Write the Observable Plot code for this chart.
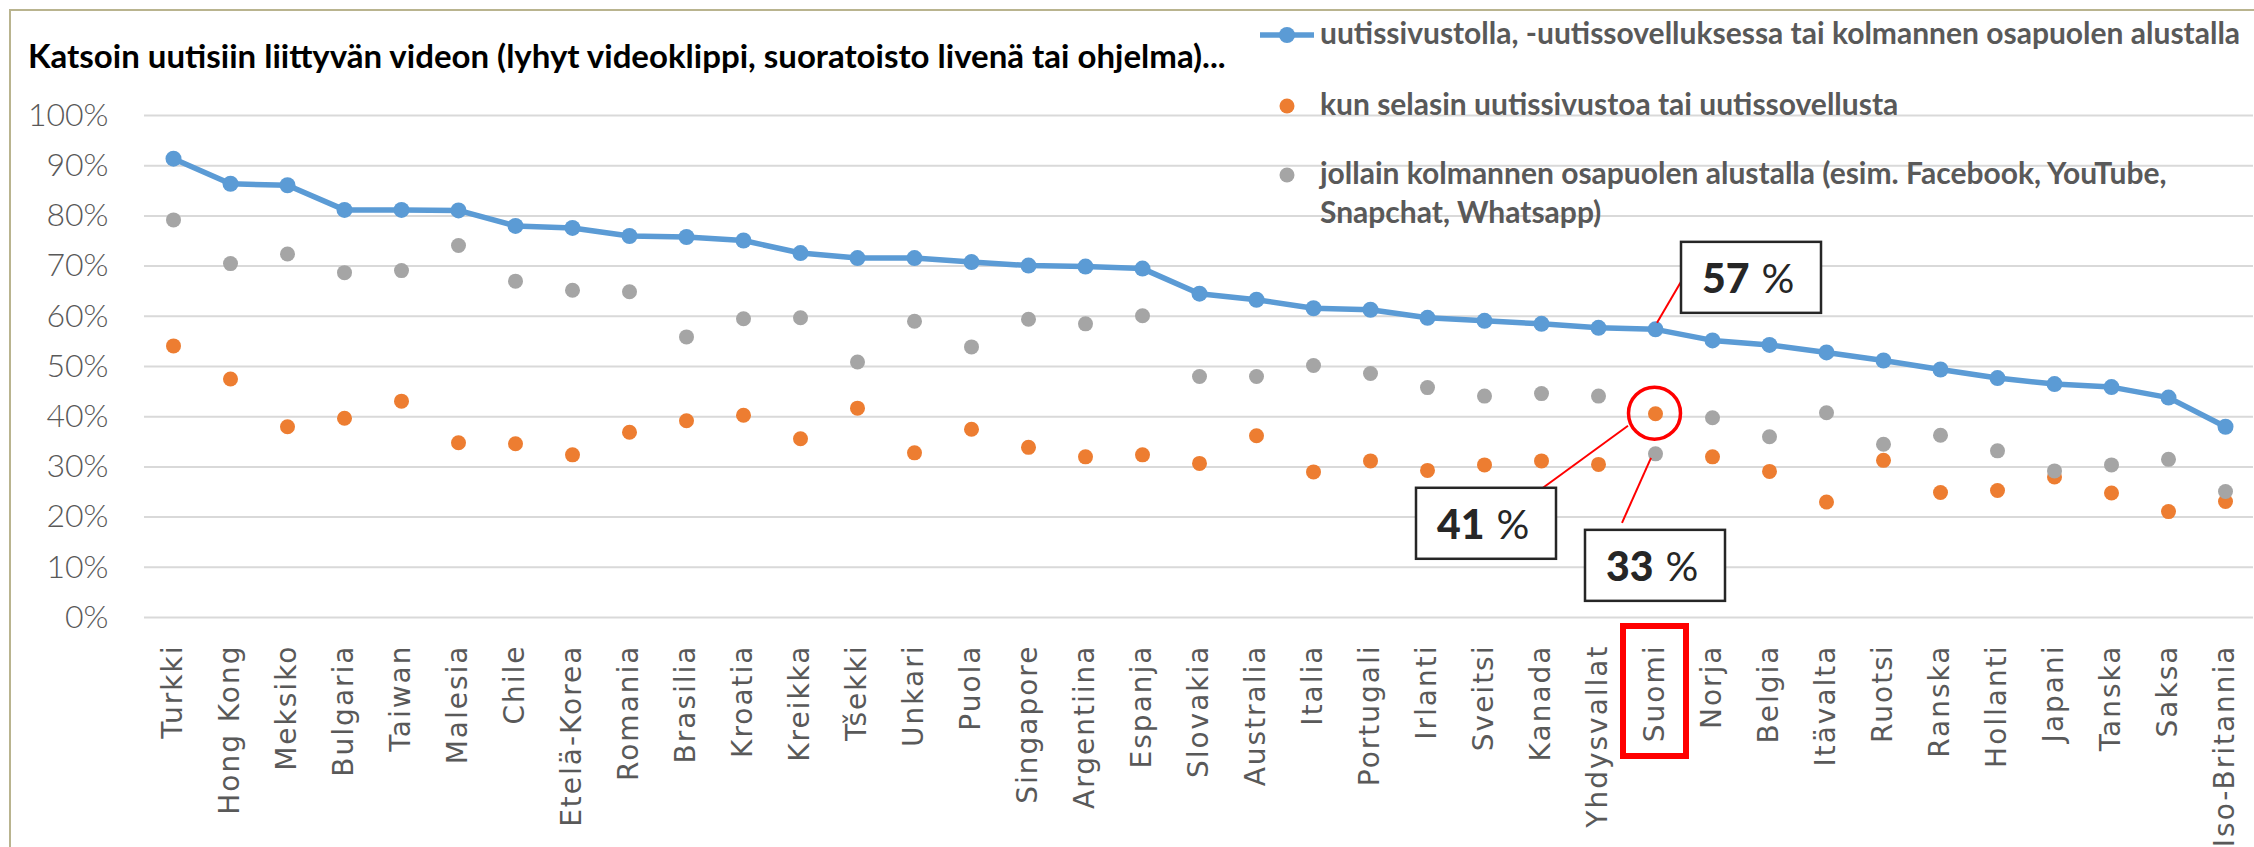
<!DOCTYPE html>
<html>
<head>
<meta charset="utf-8">
<script src="https://cdn.jsdelivr.net/npm/d3@7"></script>
<script src="https://cdn.jsdelivr.net/npm/@observablehq/plot@0.6"></script>
<style>
  html, body { margin: 0; padding: 0; background: #fff; }
  #wrap { position: relative; width: 2254px; height: 847px; overflow: hidden; background: #fff; }
  #wrap svg { position: absolute; left: 0; top: 0; }
  #frame { position: absolute; left: 9px; top: 9px; width: 2400px; height: 1000px; border: 2px solid #B9B48F; box-sizing: border-box; }
</style>
</head>
<body>
<div id="wrap"><div id="frame"></div></div>
<script>
// ---------- data ----------
const countries = ["Turkki","Hong Kong","Meksiko","Bulgaria","Taiwan","Malesia","Chile","Etelä-Korea","Romania","Brasilia","Kroatia","Kreikka","Tšekki","Unkari","Puola","Singapore","Argentiina","Espanja","Slovakia","Australia","Italia","Portugali","Irlanti","Sveitsi","Kanada","Yhdysvallat","Suomi","Norja","Belgia","Itävalta","Ruotsi","Ranska","Hollanti","Japani","Tanska","Saksa","Iso-Britannia"];
const uutis   = [91.4,86.4,86.1,81.2,81.2,81.1,78.0,77.6,76.0,75.8,75.1,72.6,71.6,71.6,70.8,70.1,69.9,69.5,64.5,63.3,61.6,61.3,59.7,59.1,58.5,57.7,57.4,55.2,54.3,52.8,51.2,49.4,47.7,46.5,45.9,43.8,38.0];
const selasin = [54.1,47.5,38.0,39.7,43.1,34.8,34.6,32.4,36.9,39.2,40.3,35.6,41.7,32.8,37.5,33.9,32.0,32.4,30.7,36.2,29.0,31.2,29.3,30.4,31.2,30.5,40.6,32.0,29.1,23.0,31.3,24.9,25.3,28.0,24.8,21.1,23.1];
const kolmas  = [79.2,70.5,72.4,68.7,69.1,74.1,67.0,65.2,64.9,55.9,59.5,59.7,50.9,59.0,53.9,59.4,58.5,60.1,48.0,48.0,50.2,48.6,45.8,44.1,44.6,44.1,32.6,39.8,36.0,40.8,34.5,36.3,33.2,29.2,30.4,31.5,25.1];
const seriesLabels = [
  "uutissivustolla, -uutissovelluksessa tai kolmannen osapuolen alustalla",
  "kun selasin uutissivustoa tai uutissovellusta",
  "jollain kolmannen osapuolen alustalla (esim. Facebook, YouTube, Snapchat, Whatsapp)"
];
const seriesColors = ["#5B9BD5","#ED7D31","#A5A5A5"];
const yTicks = [0,10,20,30,40,50,60,70,80,90,100];
const titleText = "Katsoin uutisiin liittyvän videon (lyhyt videoklippi, suoratoisto livenä tai ohjelma)...";
const highlight = "Suomi";

const rows = countries.map((c, i) => ({country: c, uutis: uutis[i], selasin: selasin[i], kolmas: kolmas[i]}));

// ---------- chart ----------
const plot = Plot.plot({
  width: 2254,
  height: 847,
  marginTop: 115,
  marginBottom: 230,
  marginLeft: 144,
  marginRight: 1,
  style: {background: "transparent", color: "#595959", overflow: "visible"},
  x: {type: "point", domain: countries, padding: 0.5, label: null},
  y: {domain: [0, 100], label: null},
  marks: [
    Plot.ruleY(yTicks, {stroke: "#D9D9D9", strokeWidth: 2}),
    Plot.axisY({ticks: yTicks, tickFormat: d => d + "%", tickSize: 0, tickPadding: 36,
      fontSize: 32, fontFamily: "Lato", fontWeight: 300, fill: "#595959", label: null}),
    Plot.axisX({tickRotate: -90, tickSize: 0, tickPadding: 27,
      fontSize: 28, fontFamily: "DejaVu Sans", fill: "#595959", label: null}),
    Plot.lineY(rows, {x: "country", y: "uutis", stroke: seriesColors[0], strokeWidth: 5.5, strokeLinejoin: "round"}),
    Plot.dot(rows, {x: "country", y: "uutis", r: 8, fill: seriesColors[0]}),
    Plot.dot(rows, {x: "country", y: "selasin", r: 7.5, fill: seriesColors[1]}),
    Plot.dot(rows, {x: "country", y: "kolmas", r: 7.5, fill: seriesColors[2]})
  ]
});
document.getElementById("wrap").appendChild(plot);

const svg = d3.select(plot);
svg.selectAll('[aria-label="x-axis tick label"] text').style("letter-spacing", "2px");

// scales from the plot
const xs = plot.scale("x"), ys = plot.scale("y");
const X = d3.scalePoint().domain(xs.domain).range(xs.range).padding(0.5);
const Y = d3.scaleLinear().domain(ys.domain).range(ys.range);

// ---------- callouts for the highlighted country ----------
const hi = rows.find(r => r.country === highlight);
const hx = X(highlight);
const ann = svg.append("g").attr("text-anchor", "start");
const callouts = [
  {key: "uutis",   box: [26.5, -87],   from: [2.5, -6],   to: [0, 40]},
  {key: "selasin", box: [-238.5, 74.6], from: [-26.5, 12.6], to: [127, 0]},
  {key: "kolmas",  box: [-69.5, 76.5],  from: [-3.5, 4.5],  to: [37, -7]}
];
ann.append("circle").attr("cx", hx).attr("cy", Y(hi.selasin)).attr("r", 26)
  .attr("fill", "none").attr("stroke", "#FF0000").attr("stroke-width", 3.5);
callouts.forEach(c => {
  const py = Y(hi[c.key]);
  const bx = hx + c.box[0], by = py + c.box[1];
  ann.append("line")
    .attr("x1", hx + c.from[0]).attr("y1", py + c.from[1])
    .attr("x2", bx + c.to[0]).attr("y2", by + c.to[1])
    .attr("stroke", "#FF0000").attr("stroke-width", 2);
  ann.append("rect").attr("x", bx).attr("y", by).attr("width", 140).attr("height", 71)
    .attr("fill", "#fff").attr("stroke", "#262626").attr("stroke-width", 2.5);
  const t = ann.append("text").attr("x", bx + 21).attr("y", by + 51)
    .attr("text-anchor", "start")
    .attr("font-family", "Lato").attr("font-size", 41).attr("fill", "#262626");
  t.append("tspan").attr("font-weight", 900).text(Math.round(hi[c.key]));
  t.append("tspan").attr("font-weight", 400).attr("dx", 12).text("%");
});
// red box around highlighted x label
const y0 = Y(0);
ann.append("rect").attr("x", hx - 31.5).attr("y", y0 + 9).attr("width", 63).attr("height", 130)
  .attr("fill", "none").attr("stroke", "#FF0000").attr("stroke-width", 6);

// ---------- title & legend overlay ----------
const over = d3.select("#wrap").append("svg").attr("width", 2254).attr("height", 847)
  .style("pointer-events", "none");
over.append("text").attr("x", 28).attr("y", 68)
  .attr("font-family", "Lato").attr("font-weight", 700).attr("font-size", 33).attr("fill", "#000")
  .text(titleText);

const legX = 1320, legMaxW = 930, lineStep = 38.5;
const legBase = [44, 115, 184];
seriesLabels.forEach((label, i) => {
  const g = over.append("g");
  const my = legBase[i] - 9;
  if (i === 0) {
    g.append("line").attr("x1", 1260).attr("x2", 1314).attr("y1", my).attr("y2", my)
      .attr("stroke", seriesColors[i]).attr("stroke-width", 5.5);
    g.append("circle").attr("cx", 1287).attr("cy", my).attr("r", 8).attr("fill", seriesColors[i]);
  } else {
    g.append("circle").attr("cx", 1287).attr("cy", my).attr("r", 7.5).attr("fill", seriesColors[i]);
  }
  const t = g.append("text").attr("x", legX).attr("y", legBase[i])
    .attr("font-family", "Lato").attr("font-weight", 700).attr("font-size", 30).attr("fill", "#595959");
  const words = label.split(" ");
  let line = [], ts = t.append("tspan").attr("x", legX).attr("dy", 0);
  words.forEach(w => {
    line.push(w);
    ts.text(line.join(" "));
    if (ts.node().getComputedTextLength() > legMaxW && line.length > 1) {
      line.pop();
      ts.text(line.join(" "));
      line = [w];
      ts = t.append("tspan").attr("x", legX).attr("dy", lineStep).text(w);
    }
  });
});
</script>
</body>
</html>
